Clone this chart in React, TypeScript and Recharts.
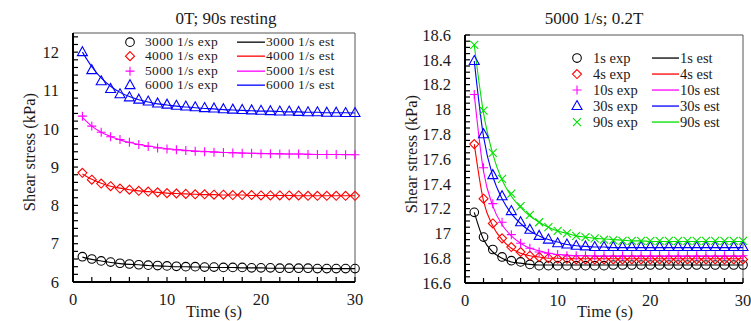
import React from 'react';
import { LineChart, Line, XAxis, YAxis, ReferenceArea } from 'recharts';

// time axis (s)
const times = [1, 2, 3, 4, 5, 6, 7, 8, 9, 10, 11, 12, 13, 14, 15, 16, 17, 18, 19, 20, 21, 22, 23, 24, 25, 26, 27, 28, 29, 30];

// left panel: 0T; 90s resting
const exp3000 = [6.66, 6.6, 6.55, 6.52, 6.49, 6.47, 6.45, 6.44, 6.43, 6.42, 6.41, 6.4, 6.4, 6.39, 6.39, 6.38, 6.38, 6.38, 6.37, 6.37, 6.37, 6.36, 6.36, 6.36, 6.36, 6.35, 6.35, 6.35, 6.35, 6.35];
const est3000 = [6.65, 6.59, 6.55, 6.51, 6.48, 6.46, 6.45, 6.43, 6.42, 6.41, 6.4, 6.4, 6.39, 6.39, 6.38, 6.38, 6.38, 6.37, 6.37, 6.37, 6.36, 6.36, 6.36, 6.36, 6.36, 6.36, 6.35, 6.35, 6.35, 6.35];
const exp4000 = [8.85, 8.67, 8.57, 8.5, 8.44, 8.41, 8.38, 8.36, 8.34, 8.32, 8.31, 8.3, 8.29, 8.29, 8.28, 8.28, 8.27, 8.27, 8.27, 8.26, 8.26, 8.26, 8.26, 8.26, 8.25, 8.25, 8.25, 8.25, 8.25, 8.25];
const est4000 = [8.82, 8.68, 8.58, 8.5, 8.45, 8.41, 8.38, 8.36, 8.34, 8.32, 8.31, 8.3, 8.29, 8.28, 8.28, 8.27, 8.27, 8.27, 8.26, 8.26, 8.26, 8.26, 8.26, 8.25, 8.25, 8.25, 8.25, 8.25, 8.25, 8.25];
const exp5000 = [10.33, 10.07, 9.91, 9.79, 9.72, 9.65, 9.59, 9.54, 9.5, 9.47, 9.45, 9.43, 9.41, 9.4, 9.39, 9.38, 9.37, 9.36, 9.36, 9.35, 9.35, 9.34, 9.34, 9.34, 9.33, 9.33, 9.33, 9.33, 9.32, 9.32];
const est5000 = [10.3, 10.07, 9.91, 9.8, 9.71, 9.64, 9.59, 9.55, 9.51, 9.48, 9.46, 9.44, 9.42, 9.41, 9.4, 9.38, 9.38, 9.37, 9.36, 9.36, 9.35, 9.35, 9.34, 9.34, 9.34, 9.33, 9.33, 9.33, 9.33, 9.32];
const exp6000 = [12.0, 11.53, 11.24, 11.04, 10.9, 10.82, 10.76, 10.71, 10.66, 10.63, 10.6, 10.58, 10.56, 10.54, 10.53, 10.51, 10.5, 10.49, 10.48, 10.47, 10.46, 10.45, 10.45, 10.44, 10.43, 10.43, 10.42, 10.42, 10.41, 10.41];
const est6000 = [12.0, 11.62, 11.33, 11.11, 10.95, 10.84, 10.76, 10.7, 10.65, 10.62, 10.59, 10.57, 10.55, 10.53, 10.52, 10.5, 10.49, 10.48, 10.47, 10.46, 10.46, 10.45, 10.44, 10.44, 10.43, 10.43, 10.42, 10.42, 10.42, 10.41];

// right panel: 5000 1/s; 0.2T
const exp1s = [17.17, 16.97, 16.87, 16.81, 16.78, 16.77, 16.75, 16.74, 16.74, 16.74, 16.74, 16.74, 16.74, 16.74, 16.74, 16.745, 16.745, 16.745, 16.745, 16.745, 16.745, 16.745, 16.745, 16.745, 16.745, 16.745, 16.745, 16.745, 16.745, 16.745];
const est1s = [17.17, 16.95, 16.85, 16.8, 16.77, 16.76, 16.75, 16.745, 16.745, 16.745, 16.745, 16.745, 16.745, 16.745, 16.745, 16.745, 16.745, 16.745, 16.745, 16.745, 16.745, 16.745, 16.745, 16.745, 16.745, 16.745, 16.745, 16.745, 16.745, 16.745];
const exp4s = [17.72, 17.28, 17.08, 16.96, 16.89, 16.85, 16.82, 16.81, 16.8, 16.795, 16.795, 16.79, 16.79, 16.79, 16.79, 16.79, 16.79, 16.79, 16.79, 16.79, 16.79, 16.79, 16.79, 16.79, 16.79, 16.79, 16.79, 16.79, 16.79, 16.79];
const est4s = [17.72, 17.26, 17.06, 16.95, 16.88, 16.84, 16.82, 16.81, 16.8, 16.8, 16.795, 16.795, 16.795, 16.795, 16.795, 16.795, 16.795, 16.795, 16.795, 16.795, 16.795, 16.795, 16.795, 16.795, 16.795, 16.795, 16.795, 16.795, 16.795, 16.795];
const exp10s = [18.12, 17.53, 17.24, 17.09, 16.99, 16.92, 16.88, 16.85, 16.84, 16.83, 16.82, 16.82, 16.82, 16.82, 16.82, 16.82, 16.82, 16.82, 16.82, 16.82, 16.82, 16.82, 16.82, 16.82, 16.82, 16.82, 16.82, 16.82, 16.82, 16.82];
const est10s = [18.12, 17.5, 17.22, 17.07, 16.98, 16.92, 16.88, 16.86, 16.84, 16.83, 16.825, 16.82, 16.82, 16.815, 16.815, 16.815, 16.815, 16.815, 16.815, 16.815, 16.815, 16.815, 16.815, 16.815, 16.815, 16.815, 16.815, 16.815, 16.815, 16.815];
const exp30s = [18.39, 17.8, 17.47, 17.3, 17.18, 17.09, 17.03, 16.98, 16.95, 16.92, 16.91, 16.9, 16.895, 16.89, 16.89, 16.89, 16.89, 16.89, 16.89, 16.89, 16.89, 16.89, 16.89, 16.89, 16.89, 16.89, 16.89, 16.89, 16.89, 16.89];
const est30s = [18.39, 17.78, 17.46, 17.28, 17.16, 17.08, 17.02, 16.98, 16.95, 16.93, 16.91, 16.9, 16.895, 16.89, 16.89, 16.885, 16.885, 16.885, 16.885, 16.885, 16.885, 16.885, 16.885, 16.885, 16.885, 16.885, 16.885, 16.885, 16.885, 16.885];
const exp90s = [18.52, 17.99, 17.65, 17.44, 17.32, 17.22, 17.15, 17.09, 17.05, 17.02, 17.0, 16.98, 16.97, 16.96, 16.95, 16.945, 16.94, 16.94, 16.94, 16.94, 16.94, 16.94, 16.94, 16.94, 16.94, 16.94, 16.94, 16.94, 16.94, 16.94];
const est90s = [18.52, 17.97, 17.64, 17.43, 17.3, 17.21, 17.14, 17.09, 17.05, 17.02, 17.0, 16.98, 16.97, 16.96, 16.955, 16.95, 16.945, 16.94, 16.94, 16.935, 16.935, 16.935, 16.935, 16.935, 16.935, 16.935, 16.935, 16.935, 16.935, 16.935];

// tick labels
const xMajor = [0, 10, 20, 30];
const xMinor = [0, 2, 4, 6, 8, 10, 12, 14, 16, 18, 20, 22, 24, 26, 28, 30];
const leftYMajor = [6, 7, 8, 9, 10, 11, 12];
const rightYMajor = [16.6, 16.8, 17, 17.2, 17.4, 17.6, 17.8, 18, 18.2, 18.4, 18.6];

const leftYMinor = Array.from({ length: 33 }, (_, i) => +(6 + i * 0.2).toFixed(2));
const rightYMinor = Array.from({ length: 41 }, (_, i) => +(16.6 + i * 0.05).toFixed(2));

const FONT = '"Liberation Serif", "Times New Roman", serif';
const TEXT = '#1a1a1a';

type Kind = 'circle' | 'diamond' | 'plus' | 'triangle' | 'cross';

interface Series {
  label: string;
  kind: Kind;
  color: string;
  exp: number[];
  est: number[];
}

const leftSeries: Series[] = [
  { label: '3000 1/s', kind: 'circle', color: '#000000', exp: exp3000, est: est3000 },
  { label: '4000 1/s', kind: 'diamond', color: '#ff0000', exp: exp4000, est: est4000 },
  { label: '5000 1/s', kind: 'plus', color: '#ff00ff', exp: exp5000, est: est5000 },
  { label: '6000 1/s', kind: 'triangle', color: '#0000ff', exp: exp6000, est: est6000 },
];

const rightSeries: Series[] = [
  { label: '1s', kind: 'circle', color: '#000000', exp: exp1s, est: est1s },
  { label: '4s', kind: 'diamond', color: '#ff0000', exp: exp4s, est: est4s },
  { label: '10s', kind: 'plus', color: '#ff00ff', exp: exp10s, est: est10s },
  { label: '30s', kind: 'triangle', color: '#0000ff', exp: exp30s, est: est30s },
  { label: '90s', kind: 'cross', color: '#00e000', exp: exp90s, est: est90s },
];

function Marker({ kind, cx, cy, color }: { kind: Kind; cx?: number; cy?: number; color: string }) {
  if (cx == null || cy == null || isNaN(cx) || isNaN(cy)) return null;
  const sw = 1.1;
  switch (kind) {
    case 'circle':
      return <circle cx={cx} cy={cy} r={4.3} fill="none" stroke={color} strokeWidth={sw} />;
    case 'diamond':
      return <path d={`M${cx} ${cy - 4.5}L${cx + 4.5} ${cy}L${cx} ${cy + 4.5}L${cx - 4.5} ${cy}Z`} fill="none" stroke={color} strokeWidth={sw} />;
    case 'plus':
      return <path d={`M${cx - 4.5} ${cy}H${cx + 4.5}M${cx} ${cy - 4.5}V${cy + 4.5}`} fill="none" stroke={color} strokeWidth={sw} />;
    case 'triangle':
      return <path d={`M${cx} ${cy - 5.5}L${cx + 5} ${cy + 3.5}L${cx - 5} ${cy + 3.5}Z`} fill="none" stroke={color} strokeWidth={sw} />;
    default:
      return <path d={`M${cx - 4} ${cy - 4}L${cx + 4} ${cy + 4}M${cx + 4} ${cy - 4}L${cx - 4} ${cy + 4}`} fill="none" stroke={color} strokeWidth={sw} />;
  }
}

const near = (list: number[], v: number) => list.some(m => Math.abs(m - v) < 1e-6);
const tickText: React.CSSProperties = { fontFamily: FONT, fontSize: 16.5 };

function XTick(props: any) {
  const { x, y, payload } = props;
  const v = payload.value;
  return (
    <g>
      <line x1={x} x2={x} y1={y} y2={y - 5} stroke="#000" strokeWidth={1.2} />
      {near(xMajor, v) && (
        <text x={x} y={y + 17} dy="0.35em" textAnchor="middle" style={tickText} fill={TEXT}>
          {v}
        </text>
      )}
    </g>
  );
}

function makeYTick(majors: number[]) {
  return (props: any) => {
    const { x, y, payload } = props;
    const v = payload.value;
    return (
      <g>
        <line x1={x} x2={x + 5} y1={y} y2={y} stroke="#000" strokeWidth={1.2} />
        {near(majors, v) && (
          <text x={x - 14} y={y} dy="0.35em" textAnchor="end" style={tickText} fill={TEXT}>
            {String(Number(v.toFixed(1)))}
          </text>
        )}
      </g>
    );
  };
}

interface PanelProps {
  left: number;
  width: number;
  margin: { top: number; right: number; bottom: number; left: number };
  series: Series[];
  yDomain: [number, number];
  yMajor: number[];
  yMinor: number[];
  title: string;
  titleX: number;
  yLabelX: number;
  yLabelY: number;
  xLabelX: number;
  legend: { left: number; top: number; rowH: number; font: number; spacing: number; text1: number; line1: number; line2: number; text2: number };
}

function Panel(p: PanelProps) {
  const rows = times.map((t, i) => {
    const r: Record<string, number> = { t };
    p.series.forEach((s, k) => {
      r[`exp${k}`] = s.exp[i];
      r[`est${k}`] = s.est[i];
    });
    return r;
  });
  const YTick = makeYTick(p.yMajor);
  const text: React.CSSProperties = { position: 'absolute', fontFamily: FONT, color: TEXT, whiteSpace: 'nowrap' };
  const lg = p.legend;
  const lgText: React.CSSProperties = {
    ...text,
    display: 'block',
    top: 0,
    height: lg.rowH,
    lineHeight: `${lg.rowH}px`,
    fontSize: lg.font,
    letterSpacing: lg.spacing,
  };

  return (
    <div style={{ position: 'absolute', left: p.left, top: 0, width: p.width, height: 321 }}>
      <LineChart width={p.width} height={321} data={rows} margin={p.margin}>
        <ReferenceArea x1={0} x2={30} y1={p.yDomain[0]} y2={p.yDomain[1]} fill="none" stroke="#555" strokeWidth={1} ifOverflow="visible" />
        <XAxis
          type="number"
          dataKey="t"
          domain={[0, 30]}
          ticks={xMinor}
          interval={0}
          tickSize={0}
          tickMargin={0}
          height={1}
          tickLine={false}
          axisLine={{ stroke: '#000', strokeWidth: 2 }}
          tick={<XTick />}
        />
        <YAxis
          type="number"
          domain={p.yDomain}
          ticks={p.yMinor}
          interval={0}
          tickSize={0}
          tickMargin={0}
          width={1}
          tickLine={false}
          axisLine={{ stroke: '#000', strokeWidth: 2 }}
          tick={YTick}
        />
        {p.series.map((s, k) => (
          <Line
            key={`est${k}`}
            dataKey={`est${k}`}
            type="monotone"
            stroke={s.color}
            strokeWidth={1.1}
            dot={false}
            activeDot={false}
            isAnimationActive={false}
          />
        ))}
        {p.series.map((s, k) => (
          <Line
            key={`exp${k}`}
            dataKey={`exp${k}`}
            stroke="none"
            dot={(d: any) => <Marker key={`m${k}-${d.index}`} kind={s.kind} cx={d.cx} cy={d.cy} color={s.color} />}
            activeDot={false}
            isAnimationActive={false}
          />
        ))}
      </LineChart>

      <div style={{ ...text, left: p.titleX - p.left - 120, width: 240, top: 9, fontSize: 17, textAlign: 'center' }}>{p.title}</div>
      <div
        style={{
          ...text,
          left: p.yLabelX - p.left - 100,
          top: p.yLabelY - 11,
          width: 200,
          height: 22,
          lineHeight: '22px',
          fontSize: 16.5,
          textAlign: 'center',
          transform: 'rotate(-90deg)',
        }}
      >
        Shear stress (kPa)
      </div>
      <div style={{ ...text, left: p.xLabelX - p.left - 60, width: 120, top: 302, height: 19, lineHeight: '19px', fontSize: 16.5, textAlign: 'center' }}>
        Time (s)
      </div>

      <div style={{ position: 'absolute', left: lg.left - p.left, top: lg.top }}>
        {p.series.map((s, k) => (
          <div key={k} style={{ position: 'relative', height: lg.rowH, width: 260 }}>
            <svg width={16} height={lg.rowH} style={{ position: 'absolute', left: 0, top: 0 }}>
              <Marker kind={s.kind} cx={8} cy={lg.rowH / 2} color={s.color} />
            </svg>
            <span style={{ ...lgText, left: lg.text1 }}>{s.label} exp</span>
            <svg width={lg.line2 - lg.line1} height={lg.rowH} style={{ position: 'absolute', left: lg.line1, top: 0 }}>
              <line x1={0} x2={lg.line2 - lg.line1} y1={lg.rowH / 2} y2={lg.rowH / 2} stroke={s.color} strokeWidth={1.3} />
            </svg>
            <span style={{ ...lgText, left: lg.text2 }}>{s.label} est</span>
          </div>
        ))}
      </div>
    </div>
  );
}

export default function App() {
  return (
    <div style={{ position: 'absolute', left: 0, top: 0, width: 751, height: 321, background: '#fff', overflow: 'hidden' }}>
      <Panel
        left={0}
        width={375}
        margin={{ top: 33, right: 20, bottom: 38, left: 72 }}
        series={leftSeries}
        yDomain={[6, 12.5]}
        yMajor={leftYMajor}
        yMinor={leftYMinor}
        title="0T; 90s resting"
        titleX={226}
        yLabelX={30}
        yLabelY={152}
        xLabelX={214}
        legend={{ left: 122, top: 35, rowH: 14.3, font: 13.5, spacing: 0.35, text1: 23, line1: 115, line2: 143, text2: 144 }}
      />
      <Panel
        left={376}
        width={375}
        margin={{ top: 35, right: 8, bottom: 37, left: 88 }}
        series={rightSeries}
        yDomain={[16.6, 18.6]}
        yMajor={rightYMajor}
        yMinor={rightYMinor}
        title="5000 1/s; 0.2T"
        titleX={594}
        yLabelX={412}
        yLabelY={154}
        xLabelX={605}
        legend={{ left: 569, top: 50, rowH: 16.1, font: 14.5, spacing: 0, text1: 24, line1: 83, line2: 110, text2: 111 }}
      />
    </div>
  );
}
